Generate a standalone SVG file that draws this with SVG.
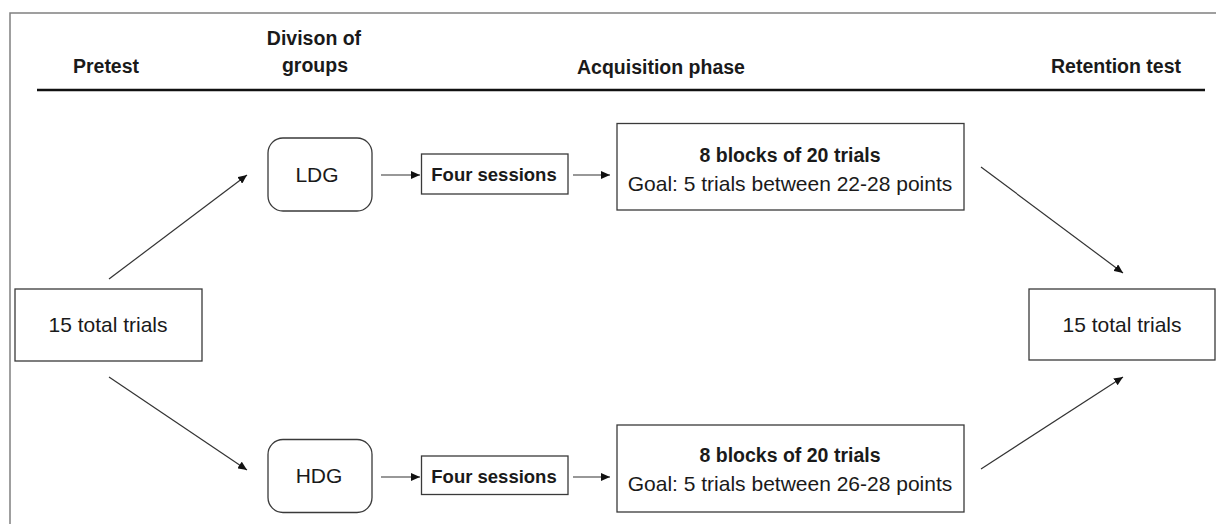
<svg xmlns="http://www.w3.org/2000/svg" width="1216" height="524" viewBox="0 0 1216 524">
<defs>
<style>
.hd{font-family:"Liberation Sans",Arial,sans-serif;font-weight:bold;font-size:19.5px;fill:#1a1a1a;text-anchor:middle}
.t{font-family:"Liberation Sans",Arial,sans-serif;font-size:21px;fill:#1a1a1a;text-anchor:middle}
.tb{font-family:"Liberation Sans",Arial,sans-serif;font-weight:bold;font-size:19.5px;fill:#1a1a1a;text-anchor:middle}
.fs{font-size:18.5px}
.box{fill:#fff;stroke:#3a3a3a;stroke-width:1.3}
.con{stroke:#333;stroke-width:1.2;fill:none;marker-end:url(#ah)}
</style>
<marker id="ah" markerUnits="userSpaceOnUse" markerWidth="10" markerHeight="8" refX="9" refY="4" orient="auto">
<path d="M0,0 L9,4 L0,8 z" fill="#111"/>
</marker>
</defs>
<rect width="1216" height="524" fill="#fff"/>
<g id="frame">
<path d="M10,524 L10,13 L1216,13" fill="none" stroke="#808080" stroke-width="1.5"/>
<line x1="37" y1="90" x2="1205" y2="90" stroke="#111" stroke-width="2.5"/>
</g>
<g id="headings">
<text class="hd" x="106" y="73">Pretest</text>
<text class="hd" x="314" y="45">Divison of</text>
<text class="hd" x="315" y="72">groups</text>
<text class="hd" x="661" y="74">Acquisition phase</text>
<text class="hd" x="1116" y="73">Retention test</text>
</g>
<g id="pretest">
<rect class="box" x="15" y="289" width="187" height="72"/>
<text class="t" x="108" y="332">15 total trials</text>
</g>
<g id="ldg">
<rect class="box" x="268" y="138" width="104" height="73" rx="15"/>
<text class="t" x="317" y="182">LDG</text>
</g>
<g id="hdg">
<rect class="box" x="268" y="439.5" width="104" height="73" rx="15"/>
<text class="t" x="319" y="483">HDG</text>
</g>
<g id="sessions-top">
<rect class="box" x="421.5" y="154" width="146.5" height="40"/>
<text class="tb fs" x="494" y="181">Four sessions</text>
</g>
<g id="sessions-bottom">
<rect class="box" x="421.5" y="456" width="146.5" height="38.5"/>
<text class="tb fs" x="494" y="483">Four sessions</text>
</g>
<g id="blocks-top">
<rect class="box" x="617" y="123.5" width="347" height="86.5"/>
<text class="tb" x="790" y="162">8 blocks of 20 trials</text>
<text class="t" x="790" y="191">Goal: 5 trials between 22-28 points</text>
</g>
<g id="blocks-bottom">
<rect class="box" x="617" y="425" width="347" height="87"/>
<text class="tb" x="790" y="462">8 blocks of 20 trials</text>
<text class="t" x="790" y="491">Goal: 5 trials between 26-28 points</text>
</g>
<g id="retention">
<rect class="box" x="1029" y="289" width="186" height="71"/>
<text class="t" x="1122" y="332">15 total trials</text>
</g>
<g id="connectors">
<line class="con" x1="109" y1="279" x2="247" y2="175"/>
<line class="con" x1="109" y1="377" x2="247" y2="470"/>
<line class="con" x1="381" y1="175" x2="420" y2="175"/>
<line class="con" x1="573" y1="175" x2="610" y2="175"/>
<line class="con" x1="381" y1="477" x2="420" y2="477"/>
<line class="con" x1="573" y1="477" x2="610" y2="477"/>
<line class="con" x1="981" y1="167" x2="1123" y2="273"/>
<line class="con" x1="981" y1="469" x2="1123" y2="377"/>
</g>
</svg>
